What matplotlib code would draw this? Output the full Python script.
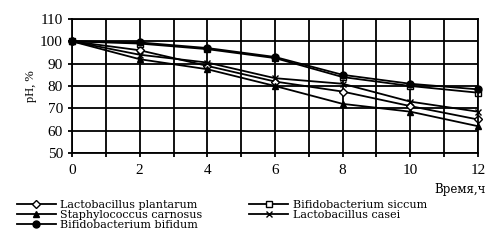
import numpy as np
import matplotlib
matplotlib.use("Agg")
import matplotlib.pyplot as plt

plt.rcParams["font.family"] = ["Liberation Serif", "DejaVu Serif"]

hours = [0, 2, 4, 6, 8, 10, 12]
plantarum = [100, 96, 89, 82, 77.5, 71, 65]
siccum = [100, 99, 96.5, 92.5, 84, 80, 77]
carnosus = [100, 92, 87.5, 80, 72, 68.5, 62]
casei = [100, 94, 90.5, 83.5, 81, 73, 68.5]
bifidum = [100, 99.5, 97, 93, 85, 81, 78.5]

fig = plt.figure(figsize=(4.91, 2.40), dpi=100)
ax = fig.add_axes([72 / 491, 1 - 153 / 240, 406 / 491, 134 / 240])

kw = dict(color="black", lw=1.3, ms=5, clip_on=False)
h1, = ax.plot(hours, plantarum, marker="D", mfc="white", mec="black", ms=4,
              color="black", lw=1.3, clip_on=False, label="Lactobacillus plantarum")
h4, = ax.plot(hours, siccum, marker="s", mfc="white", mec="black",
              label="Bifidobacterium siccum", **kw)
h2, = ax.plot(hours, carnosus, marker="^", mfc="black", mec="black",
              label="Staphylococcus carnosus", **kw)
h5, = ax.plot(hours, casei, marker="x", mec="black", mew=1.0,
              label="Lactobacillus casei", **kw)
h3, = ax.plot(hours, bifidum, marker="o", mfc="black", mec="black",
              label="Bifidobacterium bifidum", **kw)

ax.set_xlim(0, 12)
ax.set_ylim(50, 110)
ax.set_xticks(range(0, 13, 2))
ax.set_xticks(range(0, 13), minor=True)
ax.set_yticks(range(50, 111, 10))
ax.grid(True, which="both", color="black", lw=1.3)
ax.tick_params(which="both", direction="out", length=3, width=1.3,
               labelsize=11, color="black")
ax.tick_params(axis="x", pad=5)
for s in ax.spines.values():
    s.set_linewidth(1.3)

ax.set_ylabel("pH, %", fontsize=9, labelpad=2)
fig.text(486 / 491, 1 - 189 / 240, "Время,ч", ha="right", va="center",
         fontsize=8.5, family="DejaVu Serif")

fig.legend(handles=[h1, h2, h3, h4, h5], ncol=2, loc="upper left",
           bbox_to_anchor=(17 / 491, 1 - 200 / 240), frameon=False,
           prop={"family": "DejaVu Serif", "size": 8},
           handlelength=3.5, handletextpad=0.4,
           labelspacing=0.0, columnspacing=4.2, borderpad=0, borderaxespad=0)

fig.savefig("out.png", dpi=100)
